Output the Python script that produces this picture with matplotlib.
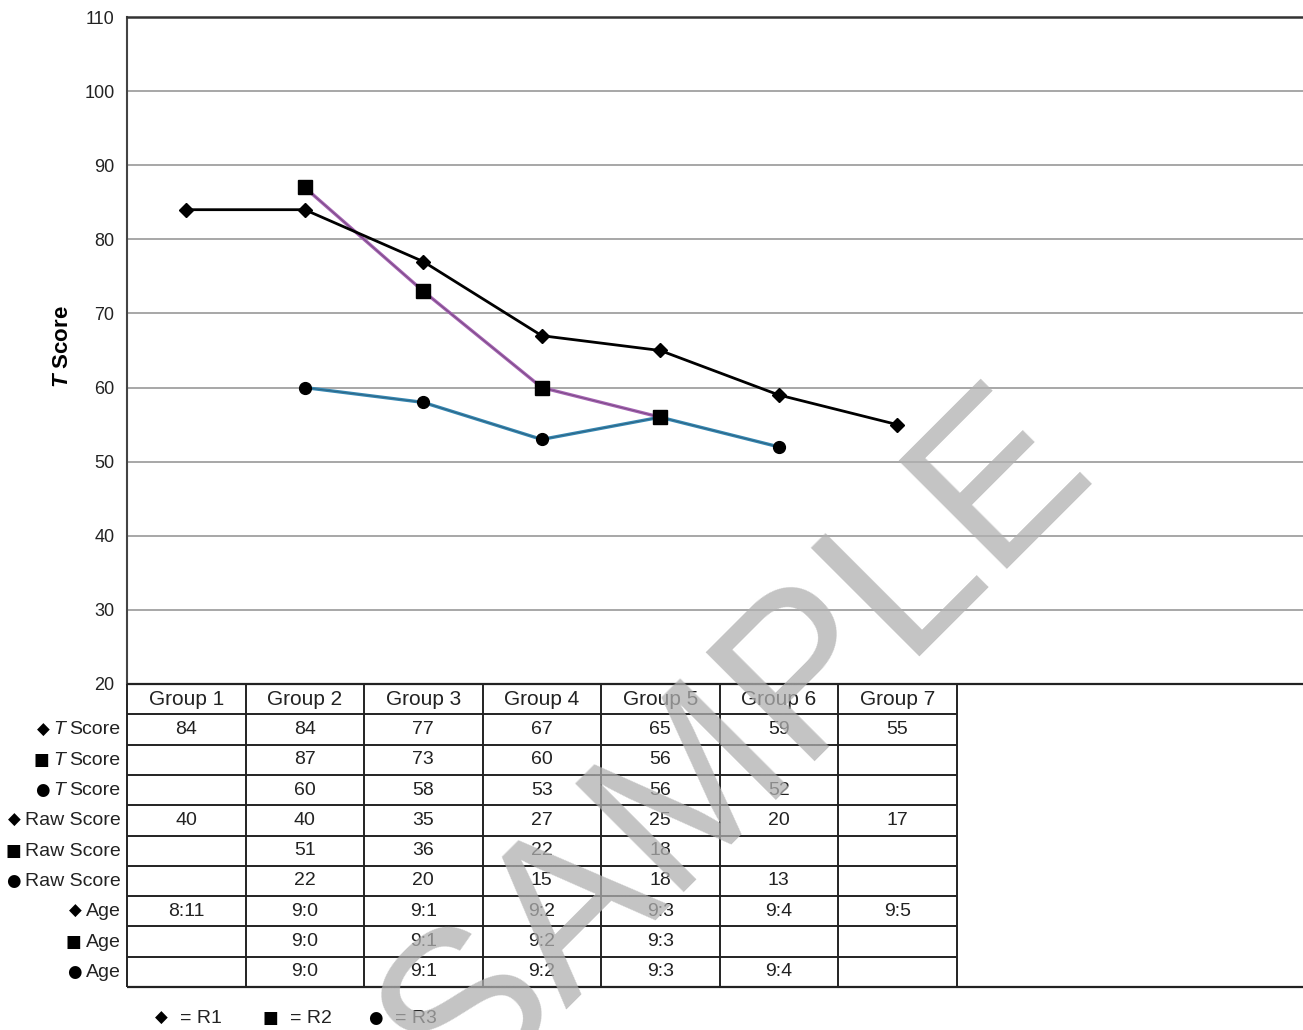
import numpy as np
import matplotlib
matplotlib.use("Agg")
import matplotlib.pyplot as plt
from matplotlib.offsetbox import TextArea, HPacker, AnnotationBbox

plt.rcParams['font.family'] = ['Liberation Sans', 'DejaVu Sans']
plt.rcParams['mathtext.fontset'] = 'custom'
plt.rcParams['mathtext.rm'] = 'Liberation Sans'
plt.rcParams['mathtext.it'] = 'Liberation Sans:italic'
plt.rcParams['mathtext.bf'] = 'Liberation Sans:bold'
plt.rcParams['mathtext.bfit'] = 'Liberation Sans:italic:bold'

# ====== Data ======
groups = ["Group 1", "Group 2", "Group 3", "Group 4", "Group 5", "Group 6", "Group 7"]
r1_t = [84, 84, 77, 67, 65, 59, 55]
r2_t = [None, 87, 73, 60, 56, None, None]
r3_t = [None, 60, 58, 53, 56, 52, None]
r1_raw = [40, 40, 35, 27, 25, 20, 17]
r2_raw = [None, 51, 36, 22, 18, None, None]
r3_raw = [None, 22, 20, 15, 18, 13, None]
r1_age = ["8:11", "9:0", "9:1", "9:2", "9:3", "9:4", "9:5"]
r2_age = [None, "9:0", "9:1", "9:2", "9:3", None, None]
r3_age = [None, "9:0", "9:1", "9:2", "9:3", "9:4", None]
yticks = [20, 30, 40, 50, 60, 70, 80, 90, 100, 110]

marks = {"R1": "\u25C6", "R2": "\u25A0", "R3": "\u25CF"}
table_rows = [
    ("R1", "T", r1_t), ("R2", "T", r2_t), ("R3", "T", r3_t),
    ("R1", "Raw Score", r1_raw), ("R2", "Raw Score", r2_raw), ("R3", "Raw Score", r3_raw),
    ("R1", "Age", r1_age), ("R2", "Age", r2_age), ("R3", "Age", r3_age),
]

def to_arr(vals):
    return np.array([np.nan if v is None else v for v in vals], dtype=float)

# ====== Layout (pixels) ======
W, H = 1303, 1030
ax_left, ax_right, ax_top, ax_bot = 127, 1303, 17, 684
tab_bot = 987
col_w = 118.5
xmax = (ax_right - ax_left) / col_w
FS = 13
TFS = 14
MFS = 12
txt_c = "#222222"

fig = plt.figure(figsize=(W / 100, H / 100), dpi=100)
ax = fig.add_axes([ax_left / W, 1 - ax_bot / H, (ax_right - ax_left) / W, (ax_bot - ax_top) / H])

x = np.arange(len(groups)) + 0.5

# R3 (blue), R2 (purple), R1 (black)
ax.plot(x, to_arr(r3_t), color="#3585b0", lw=2.4, zorder=3)
ax.plot(x, to_arr(r3_t), color="#1a1a1a", lw=0.6, alpha=0.35, zorder=3)
ax.plot(x, to_arr(r3_t), ls="none", marker="o", ms=8.5, color="black", zorder=4)

ax.plot(x, to_arr(r2_t), color="#a462b2", lw=2.4, zorder=3)
ax.plot(x, to_arr(r2_t), color="#1a1a1a", lw=0.6, alpha=0.35, zorder=3)
ax.plot(x, to_arr(r2_t), ls="none", marker="s", ms=10.5, color="black", zorder=5)

ax.plot(x, to_arr(r1_t), color="black", lw=2, marker="D", ms=7.5, zorder=6)

ax.set_xlim(0, xmax)
ax.set_ylim(20, 110)
ax.set_yticks(yticks)
ax.set_xticks([])
ax.tick_params(axis="y", length=0, pad=9, labelsize=FS, labelcolor=txt_c)
for yv in yticks[1:-1]:
    ax.axhline(yv, color="#a0a0a0", lw=1.3, zorder=1)
ax.spines["right"].set_visible(False)
ax.spines["bottom"].set_visible(False)
ax.spines["left"].set_color("#444444")
ax.spines["left"].set_linewidth(1.5)
ax.spines["top"].set_color("#333333")
ax.spines["top"].set_linewidth(1.8)

fig.text(62 / W, 1 - 347 / H, r"$\mathbfit{T}$ Score", rotation=90, ha="center", va="center",
         fontsize=16, fontweight="bold")

# ====== Table ======
tab = fig.add_axes([ax_left / W, 1 - tab_bot / H, (ax_right - ax_left) / W, (tab_bot - ax_bot) / H])
tab.set_xlim(0, xmax)
nrows = len(table_rows) + 1
tab.set_ylim(nrows, 0)
tab.axis("off")
lc = "#222222"
tab.hlines([0, nrows], 0, xmax, color=lc, lw=1.6, clip_on=False)
tab.hlines(np.arange(1, nrows), 0, len(groups), color=lc, lw=1.4)
tab.vlines(np.arange(0, len(groups) + 1), 0, nrows, color=lc, lw=1.4, clip_on=False)

for j, g in enumerate(groups):
    tab.text(j + 0.5, 0.5, g, ha="center", va="center", fontsize=TFS + 1, color=txt_c)

for i, (key, kind, vals) in enumerate(table_rows):
    yc = i + 1.5
    for j, v in enumerate(vals):
        if v is not None:
            tab.text(j + 0.5, yc, str(v), ha="center", va="center", fontsize=TFS, color=txt_c)
    parts = [TextArea(marks[key], textprops=dict(fontsize=MFS, family="DejaVu Sans", color="black"))]
    if kind == "T":
        parts.append(TextArea("T", textprops=dict(fontsize=TFS, style="italic", color=txt_c)))
        parts.append(TextArea("Score", textprops=dict(fontsize=TFS, color=txt_c)))
    else:
        parts.append(TextArea(kind, textprops=dict(fontsize=TFS, color=txt_c)))
    pack = HPacker(children=parts, align="baseline", pad=0, sep=3)
    ab = AnnotationBbox(pack, (0, yc), xybox=(-4.5, 0), xycoords="data", boxcoords="offset points",
                        box_alignment=(1, 0.5), frameon=False, pad=0, annotation_clip=False)
    tab.add_artist(ab)

# ====== Legend ======
for key, xp in zip(["R1", "R2", "R3"], [155, 262, 368]):
    pack = HPacker(children=[
        TextArea(marks[key], textprops=dict(fontsize=MFS, family="DejaVu Sans", color="black")),
        TextArea("= " + key, textprops=dict(fontsize=FS + 1, color=txt_c)),
    ], align="baseline", pad=0, sep=9)
    ab = AnnotationBbox(pack, (xp / W, 1 - 1018 / H), xycoords="figure fraction",
                        box_alignment=(0, 0.5), frameon=False, pad=0, annotation_clip=False)
    fig.add_artist(ab)

# ====== Watermark ======
fig.text(1097 / W, 1 - 469 / H, "SAMPLE", rotation=45, rotation_mode="anchor",
         ha="right", va="baseline", fontsize=160, color="#b0b0b0", alpha=0.75, zorder=10)

fig.savefig("out.png", dpi=100)
